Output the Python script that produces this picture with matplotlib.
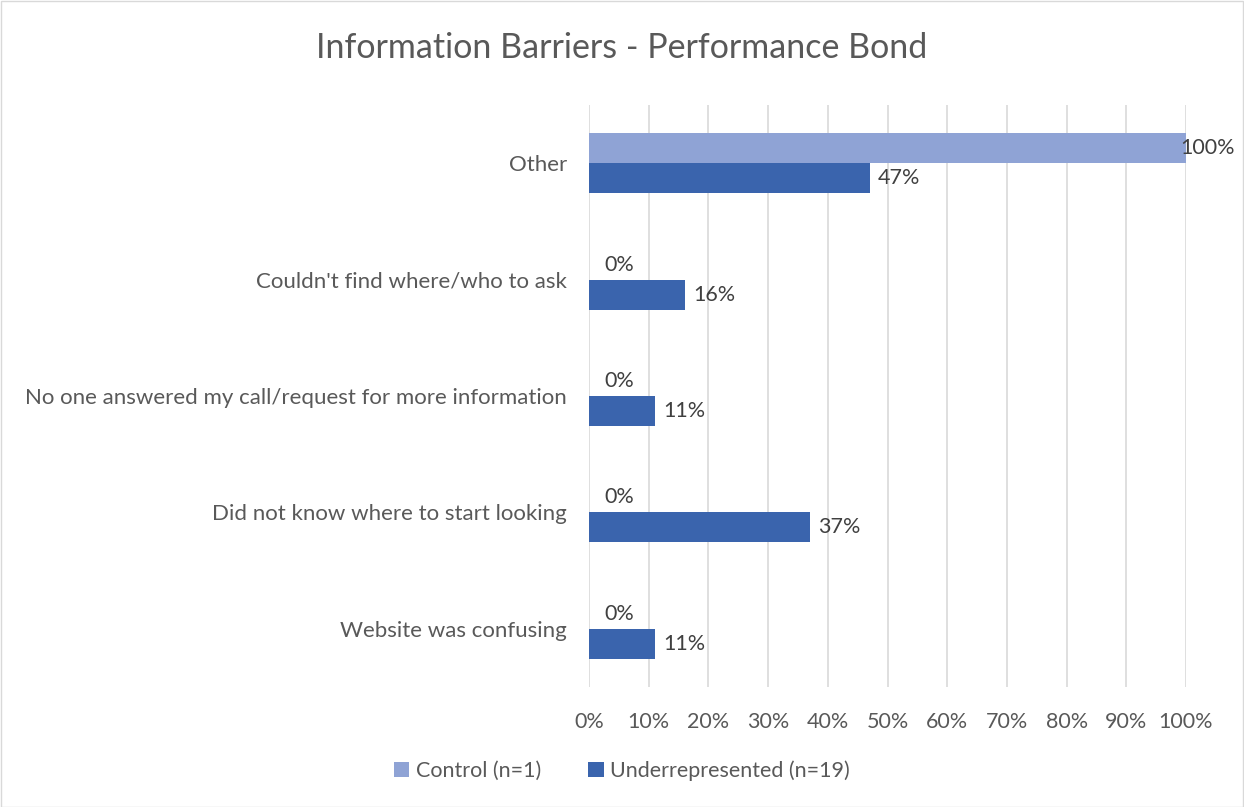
import matplotlib
matplotlib.use('Agg')
import matplotlib.pyplot as plt
from matplotlib.patches import Rectangle
import numpy as np

# %% Data
categories   = ['Website was confusing', 'Did not know where to start looking',
                'No one answered my call/request for more information',
                "Couldn't find where/who to ask", 'Other']
control      = [0, 0, 0, 0, 100]
underrep     = [11, 37, 11, 16, 47]
series_names = ['Control (n=1)', 'Underrepresented (n=19)']
x_ticks      = list(range(0, 101, 10))

# %% Style
C_CTRL  = '#8FA3D5'
C_UNDER = '#3A64AD'
TXT     = '#595959'
LBL     = '#404040'
FS      = 15.5
plt.rcParams['font.family'] = ['Lato', 'DejaVu Sans']

W, H = 1244, 807
fig = plt.figure(figsize=(W / 100, H / 100), dpi=100)
fig.patches.append(Rectangle((0.5 / W, 0.5 / H), 1 - 1.5 / W, 1 - 1.5 / H,
                             transform=fig.transFigure, fill=False,
                             edgecolor='#d9d9d9', linewidth=1))
ax = fig.add_axes([589 / W, 1 - 687 / H, (1186 - 589) / W, (687 - 105) / H])

y = np.arange(len(categories))
bh = 0.257
ax.barh(y + bh / 2, control, height=bh, color=C_CTRL, label=series_names[0], zorder=3)
ax.barh(y - bh / 2, underrep, height=bh, color=C_UNDER, label=series_names[1], zorder=3)

# data labels just past the bar end (the 100% one is pulled back to fit)
for yi, v in zip(y + bh / 2, control):
    off = -4 if v >= 100 else 11
    ax.annotate(f'{v}%', (v, yi), xytext=(off, 0), textcoords='offset points',
                ha='left', va='center', fontsize=FS, color=LBL)
for yi, v in zip(y - bh / 2, underrep):
    ax.annotate(f'{v}%', (v, yi), xytext=(6, 0), textcoords='offset points',
                ha='left', va='center', fontsize=FS, color=LBL)

ax.set_xlim(0, 100)
ax.set_ylim(-0.5, len(categories) - 0.5)
ax.set_xticks(x_ticks)
ax.set_xticklabels([f'{t}%' for t in x_ticks], fontsize=FS, color=TXT)
ax.set_yticks(y)
ax.set_yticklabels(categories, fontsize=16, color=TXT)
ax.tick_params(axis='y', length=0, pad=16)
ax.tick_params(axis='x', length=0, pad=18)
ax.grid(axis='x', color='#d9d9d9', linewidth=1.2, zorder=0)
for s in ax.spines.values():
    s.set_visible(False)

fig.text(0.5, 1 - 48 / H, 'Information Barriers - Performance Bond',
         ha='center', va='center', fontsize=24.5, color=TXT)
fig.legend(loc='center', bbox_to_anchor=(0.5, 1 - 771 / H), ncol=2,
           frameon=False, fontsize=FS, labelcolor=TXT, handlelength=0.7,
           handleheight=0.7, handletextpad=0.3, columnspacing=2.2)

fig.savefig('out.png', dpi=100)
